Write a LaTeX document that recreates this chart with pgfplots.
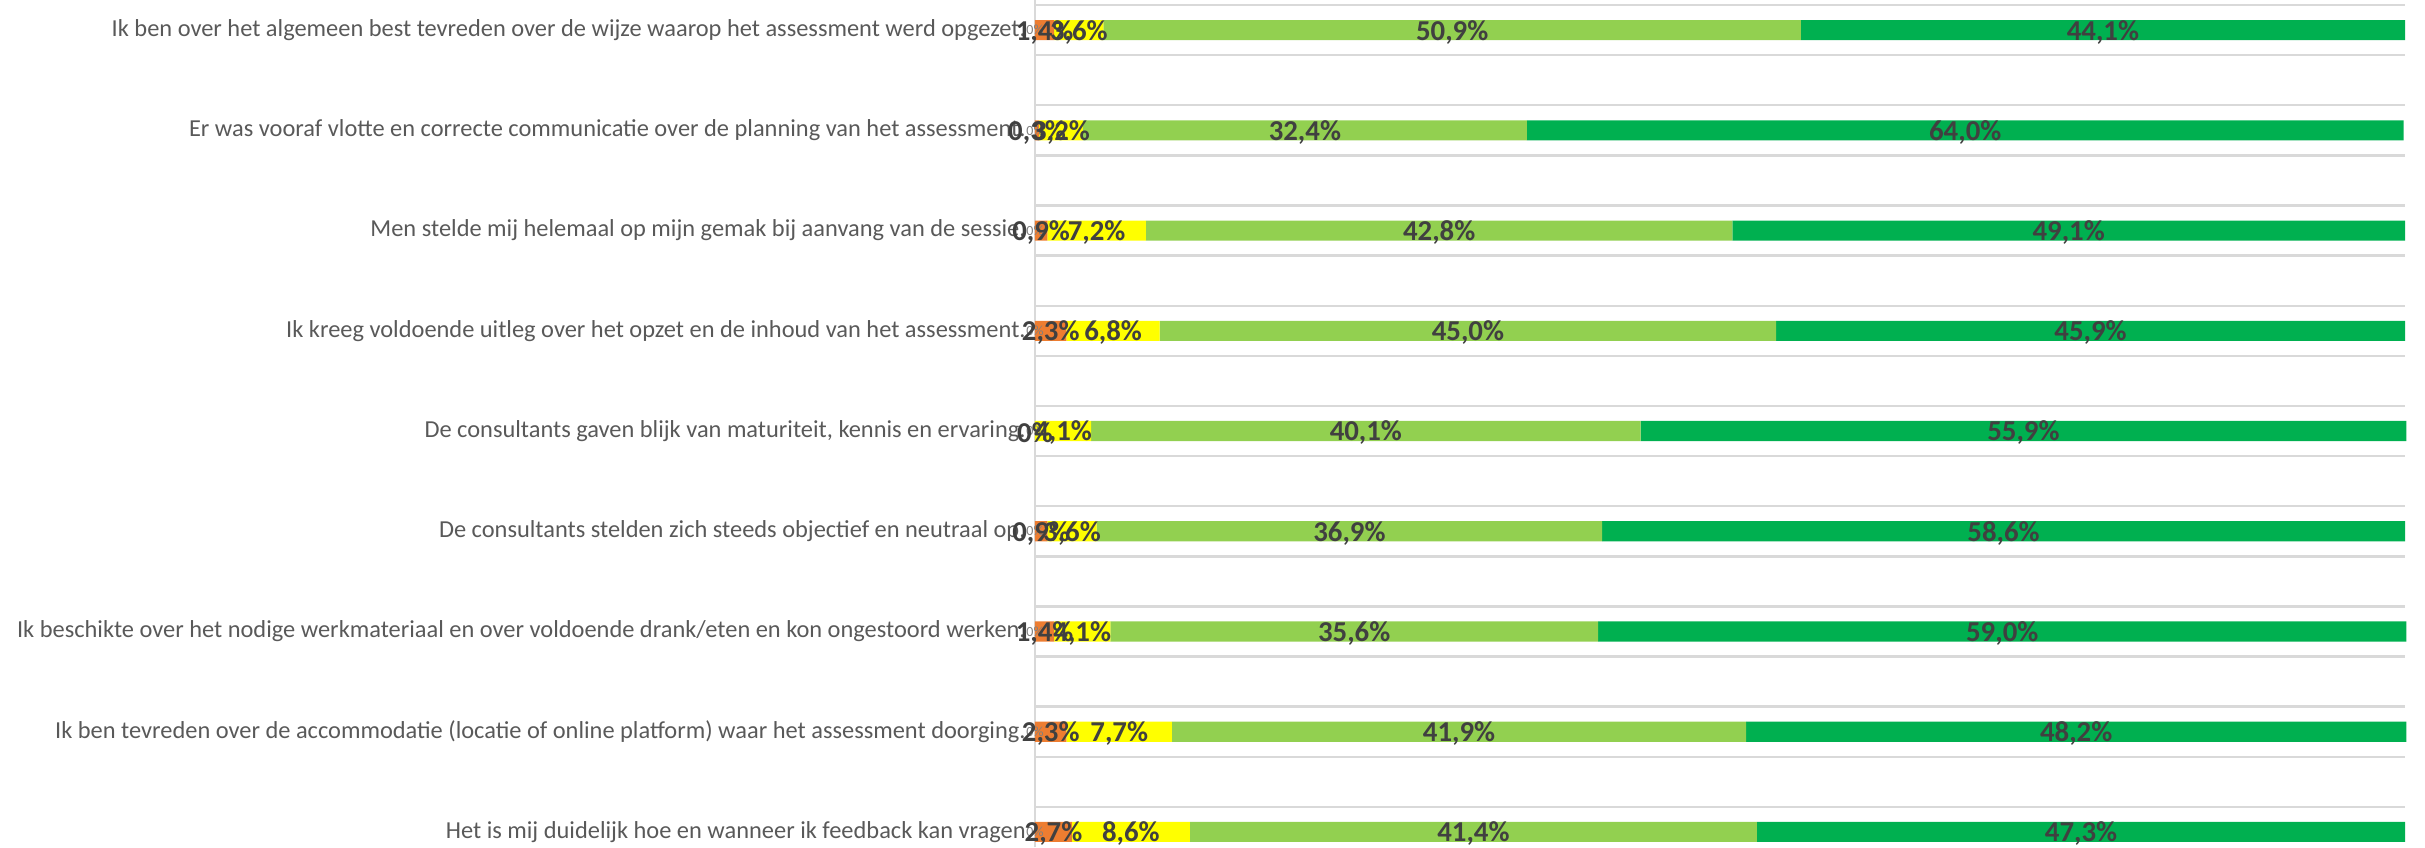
\documentclass[border=0pt]{standalone}
\usepackage{pgfplots}
\usepackage{pgfplotstable}
\pgfplotsset{compat=1.18}
\usepackage{fontspec}
\setmainfont{Carlito}
\definecolor{cOrange}{HTML}{ED7D31}
\definecolor{cYellow}{HTML}{FFFF00}
\definecolor{cLGreen}{HTML}{92D050}
\definecolor{cDGreen}{HTML}{00B050}
\definecolor{cGrid}{HTML}{D9D9D9}
\definecolor{cLabel}{HTML}{595959}
\definecolor{cData}{HTML}{404040}
\definecolor{cSmall}{HTML}{7F7F7F}

\pgfplotstableread{
y  c1  c2  c3   c4   l0 l1  l2  l3   l4
16 1.4 3.6 50.9 44.1 0  1,4 3,6 50,9 44,1
14 0.3 3.2 32.4 64.0 0  0,3 3,2 32,4 64,0
12 0.9 7.2 42.8 49.1 0  0,9 7,2 42,8 49,1
10 2.3 6.8 45.0 45.9 0  2,3 6,8 45,0 45,9
8  0.0 4.1 40.1 55.9 0  0   4,1 40,1 55,9
6  0.9 3.6 36.9 58.6 0  0,9 3,6 36,9 58,6
4  1.4 4.1 35.6 59.0 0  1,4 4,1 35,6 59,0
2  2.3 7.7 41.9 48.2 0  2,3 7,7 41,9 48,2
0  2.7 8.6 41.4 47.3 0  2,7 8,6 41,4 47,3
}\datatable

\pgfplotsset{
  commonaxis/.style={
    scale only axis, width=685pt, height=423.5pt,
    xmin=0, xmax=100, ymin=-0.3, ymax=16.6,
    clip=false, at={(0,0)}, anchor=south west,
  },
  lbl/.style={draw=none, mark=none, point meta=explicit symbolic,
    nodes near coords={\pgfplotspointmeta\%},
    every node near coord/.append style={anchor=center, yshift=-1pt,
      font=\bfseries\fontsize{14.4}{16}\selectfont, text=cData, inner sep=0pt}},
}
\begin{document}
\begin{tikzpicture}
\begin{axis}[commonaxis,
  xbar stacked, bar width=0.4,
  axis line style={draw=none},
  xtick=\empty,
  ytick={0,2,...,16},
  yticklabels={
    {Het is mij duidelijk hoe en wanneer ik feedback kan vragen},
    {Ik ben tevreden over de accommodatie (locatie of online platform) waar het assessment doorging.},
    {Ik beschikte over het nodige werkmateriaal en over voldoende drank/eten en kon ongestoord werken.},
    {De consultants stelden zich steeds objectief en neutraal op.},
    {De consultants gaven blijk van maturiteit, kennis en ervaring.},
    {Ik kreeg voldoende uitleg over het opzet en de inhoud van het assessment.},
    {Men stelde mij helemaal op mijn gemak bij aanvang van de sessie.},
    {Er was vooraf vlotte en correcte communicatie over de planning van het assessment.},
    {Ik ben over het algemeen best tevreden over de wijze waarop het assessment werd opgezet.}},
  major tick length=0pt, minor tick length=0pt,
  minor ytick={0.5,1.5,...,16.5},
  yminorgrids, minor grid style={cGrid, line width=1.2pt},
  extra x ticks={0}, extra x tick labels={},
  extra x tick style={grid=major, major grid style={cGrid, line width=1.2pt}},
  yticklabel style={font=\fontsize{12.2}{14}\selectfont, text=cLabel, inner sep=0pt, xshift=-4.5pt},
]
\addplot[fill=cOrange, draw=none] table[x=c1, y=y]{\datatable};
\addplot[fill=cYellow, draw=none] table[x=c2, y=y]{\datatable};
\addplot[fill=cLGreen, draw=none] table[x=c3, y=y]{\datatable};
\addplot[fill=cDGreen, draw=none] table[x=c4, y=y]{\datatable};
\end{axis}
\begin{axis}[commonaxis, hide axis]
\addplot[draw=none, mark=none, point meta=explicit symbolic,
  nodes near coords={\pgfplotspointmeta\%},
  every node near coord/.append style={anchor=center, font=\fontsize{7}{8}\selectfont, text=cSmall, inner sep=0pt}]
  table[x expr=0, y=y, meta=l0]{\datatable};
\addplot[lbl] table[x expr=\thisrow{c1}/2, y=y, meta=l1]{\datatable};
\addplot[lbl] table[x expr=\thisrow{c1}+\thisrow{c2}/2, y=y, meta=l2]{\datatable};
\addplot[lbl] table[x expr=\thisrow{c1}+\thisrow{c2}+\thisrow{c3}/2, y=y, meta=l3]{\datatable};
\addplot[lbl] table[x expr=\thisrow{c1}+\thisrow{c2}+\thisrow{c3}+\thisrow{c4}/2, y=y, meta=l4]{\datatable};
\end{axis}
\pgfresetboundingbox
\path[use as bounding box] (-517.5pt,0) rectangle (695pt,423.5pt);
\end{tikzpicture}
\end{document}
